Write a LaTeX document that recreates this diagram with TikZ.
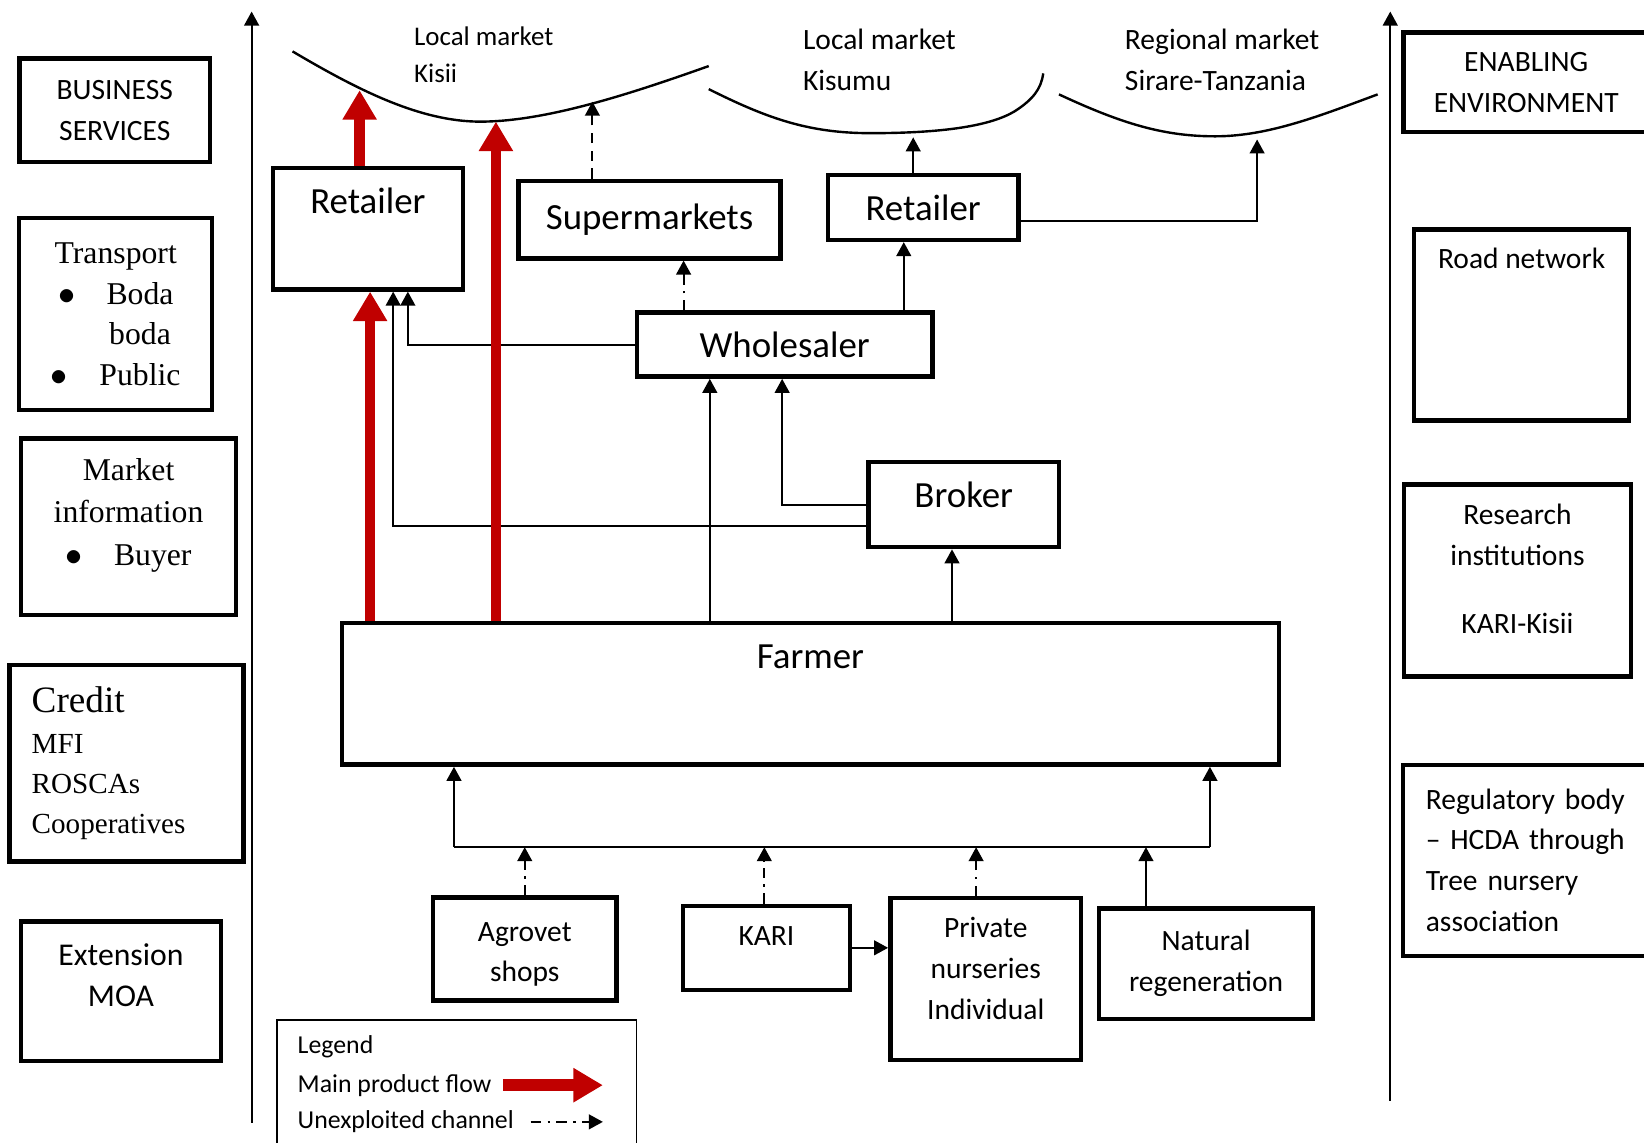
\documentclass[tikz,border=0pt]{standalone}
\usepackage{fontspec}
\setmainfont{Carlito}
\newfontfamily\tnr{Liberation Serif}
\usetikzlibrary{positioning, arrows.meta}
\definecolor{flowred}{HTML}{C00000}
\newcommand{\raisetxt}[2]{\raisebox{#1}[\height][\depth]{\begin{tabular}{@{}c@{}}#2\end{tabular}}}
\newcommand{\bul}{$\bullet$}

\begin{document}
\begin{tikzpicture}[x=0.01cm, y=-0.01cm, line width=0.55pt,
      >={Triangle[length=3.8pt,width=4pt]},
      box/.style={draw, line width=1.2pt, inner sep=0pt, align=center, font=\fontsize{8}{11.1}\selectfont},
      big/.style={font=\fontsize{10}{12}\selectfont},
      serif/.style={font=\tnr\fontsize{8.6}{11.5}\selectfont},
      txt/.style={inner sep=0pt, align=left, font=\fontsize{8}{11.1}\selectfont},
      legtxt/.style={txt, font=\fontsize{7}{9}\selectfont, anchor=west},
      flow/.style={-{Triangle[length=8pt,width=8.8pt]}, line width=2.85pt, draw=flowred},
      unexp/.style={->, dash pattern=on 2.8pt off 1.8pt on 0.6pt off 1.8pt},
      curve/.style={line width=0.65pt}]

  \useasboundingbox (0,0) rectangle (1568,1090);
  \clip (0,0) rectangle (1568,1090);

  % axes
  \coordinate (axLb) at (240,1071);
  \coordinate (axLt) at (240,11);
  \coordinate (axRb) at (1326,1050);
  \coordinate (axRt) at (1326,11);
  \draw[->] (axLb) -- (axLt);
  \draw[->] (axRb) -- (axRt);

  % business services
  \node[box, minimum width=1.82cm, minimum height=0.99cm] (biz) at (109.5,105.2) {BUSINESS\\SERVICES};
  \node[box, font=\tnr\fontsize{8.6}{11}\selectfont, minimum width=1.84cm, minimum height=1.83cm] (trans) at (110.4,299.6)
    {Transport\\\bul\hspace{0.3cm}Boda\\\phantom{\bul}\hspace{0.3cm}boda\\\bul\hspace{0.3cm}Public};
  \node[box, serif, minimum width=2.05cm, minimum height=1.68cm] (mktinfo) at (122.6,502.4)
    {\raisetxt{0.12cm}{Market\\information\\\bul\hspace{0.3cm}Buyer}};
  \node[box, font=\tnr\fontsize{7.9}{10.9}\selectfont, align=left, text width=1.81cm,
        minimum width=2.23cm, minimum height=1.87cm] (credit) at (120.8,728)
    {{\fontsize{10.1}{12}\selectfont Credit}\\MFI\\ROSCAs\\Cooperatives};
  \node[box, font=\fontsize{8.6}{11.3}\selectfont, minimum width=1.91cm, minimum height=1.33cm] (ext) at (115.4,945.4)
    {\raisetxt{0.13cm}{Extension\\MOA}};

  % enabling environment
  \node[box, minimum width=2.34cm, minimum height=0.95cm] (enab) at (1455.7,78.5) {ENABLING\\ENVIRONMENT};
  \node[box, minimum width=2.05cm, minimum height=1.82cm] (road) at (1451.3,310) {\raisetxt{0.62cm}{Road network}};
  \node[box, minimum width=2.16cm, minimum height=1.83cm] (research) at (1447.3,553.5)
    {\raisetxt{0.09cm}{Research\\institutions\\[0.26cm]KARI-Kisii}};
  \node[box, align=left, text width=2.0cm, minimum width=2.44cm, minimum height=1.82cm] (reg) at (1460,820.5)
    {Regulatory body\\– HCDA through\\Tree nursery\\association};

  % markets
  \draw[curve] (279,49) .. controls (340,85) and (400,116) .. (458,116)
    .. controls (520,116) and (600,90) .. (676,63);
  \draw[curve] (676,85) .. controls (730,112) and (770,127) .. (830,127)
    .. controls (900,127) and (945,120) .. (968,106) .. controls (985,95) and (993,85) .. (995,70);
  \draw[curve] (1010,90) .. controls (1070,118) and (1110,130) .. (1159,130)
    .. controls (1210,130) and (1260,110) .. (1314,90);
  \node[txt, font=\fontsize{7.3}{10}\selectfont, anchor=west] (kisii) at (394,52) {Local market\\Kisii};
  \node[txt, anchor=west] (kisumu) at (765,57) {Local market\\Kisumu};
  \node[txt, anchor=west] (region) at (1072,57) {Regional market\\Sirare-Tanzania};
  \coordinate (kisiiA) at (343,86);
  \coordinate (kisiiB) at (473,116);
  \coordinate (kisiiC) at (565,97);
  \coordinate (kisumuA) at (871,131);
  \coordinate (regionA) at (1199,133);

  % chain actors
  \node[box, big, minimum width=1.81cm, minimum height=1.16cm] (retA) at (350.9,218) {\raisetxt{0.23cm}{Retailer}};
  \node[box, big, minimum width=2.50cm, minimum height=0.74cm] (superm) at (619.5,209.4) {Supermarkets};
  \node[box, big, minimum width=1.82cm, minimum height=0.62cm] (retB) at (880.5,197.8) {Retailer};
  \node[box, big, minimum width=2.82cm, minimum height=0.61cm] (whole) at (748.4,328.7) {Wholesaler};
  \node[box, big, minimum width=1.82cm, minimum height=0.81cm] (broker) at (919.2,481.3) {\raisetxt{0.06cm}{Broker}};
  \node[box, big, minimum width=8.93cm, minimum height=1.35cm] (farmer) at (773,661.7) {\raisetxt{0.33cm}{Farmer}};

  % inputs
  \node[box, minimum width=1.75cm, minimum height=0.98cm] (agro) at (500.5,905.2) {\raisetxt{-0.04cm}{Agrovet\\shops}};
  \node[box, minimum width=1.59cm, minimum height=0.80cm] (kari) at (731,904) {\raisetxt{0.10cm}{KARI}};
  \node[box, minimum width=1.82cm, minimum height=1.54cm] (priv) at (940.2,933.7) {\raisetxt{0.08cm}{Private\\nurseries\\Individual}};
  \node[box, minimum width=2.04cm, minimum height=1.05cm] (natural) at (1150.3,919.1) {Natural\\regeneration};

  % links
  \draw[->, dash pattern=on 2.8pt off 2pt] (superm.north -| kisiiC) -- (kisiiC);
  \draw[->] (retB.north -| kisumuA) -- (kisumuA);
  \draw[->] ([yshift=-0.127cm]retB.east) -| (regionA);
  \draw[unexp] (whole.north -| 652,0) -- (superm.south -| 652,0);
  \draw[->] (whole.north -| 862,0) -- (retB.south -| 862,0);
  \draw[->] (whole.west) -| (retA.south -| 389,0);
  \draw[->] ([yshift=-0.2cm]broker.west) -| (retA.south -| 375,0);
  \draw[->] (broker.west) -| (whole.south -| 746,0);
  \draw[->] (farmer.north -| 677,0) -- (whole.south -| 677,0);
  \draw[->] (farmer.north -| 908,0) -- (broker.south -| 908,0);

  \coordinate (busL) at (433,808);
  \coordinate (busR) at (1154,808);
  \draw (busL) -- (busR);
  \draw[->] (busL) -- (farmer.south -| busL);
  \draw[->] (busR) -- (farmer.south -| busR);
  \draw[unexp] (agro.north) -- (agro.north |- busL);
  \draw[unexp] (kari.north -| 729,0) -- (busL -| 729,0);
  \draw[unexp] (priv.north -| 931,0) -- (busL -| 931,0);
  \draw[->] (natural.north -| 1093,0) -- (busL -| 1093,0);
  \draw[->] (kari.east) -- (kari.east -| priv.west);

  % main product flow
  \draw[flow] (retA.north -| kisiiA) -- (kisiiA);
  \draw[flow] (farmer.north -| kisiiB) -- (kisiiB);
  \draw[flow] (farmer.north -| 353,0) -- (retA.south -| 353,0);

  % legend
  \node[draw, line width=0.5pt, minimum width=3.43cm, minimum height=1.4cm, anchor=north west] (legend) at (263,972) {};
  \node[legtxt] (lgtitle) at (283,998) {Legend};
  \node[legtxt] (lgmain) at (283,1035) {Main product flow};
  \node[legtxt] (lgunexp) at (283,1070) {Unexploited channel};
  \coordinate (lgtipA) at (575,1035);
  \coordinate (lgtipB) at (575,1070);
  \draw[flow, line width=3.3pt] ([xshift=0.1cm]lgmain.east) -- (lgtipA);
  \draw[unexp] ([xshift=0.15cm]lgunexp.east) -- (lgtipB);
\end{tikzpicture}
\end{document}
